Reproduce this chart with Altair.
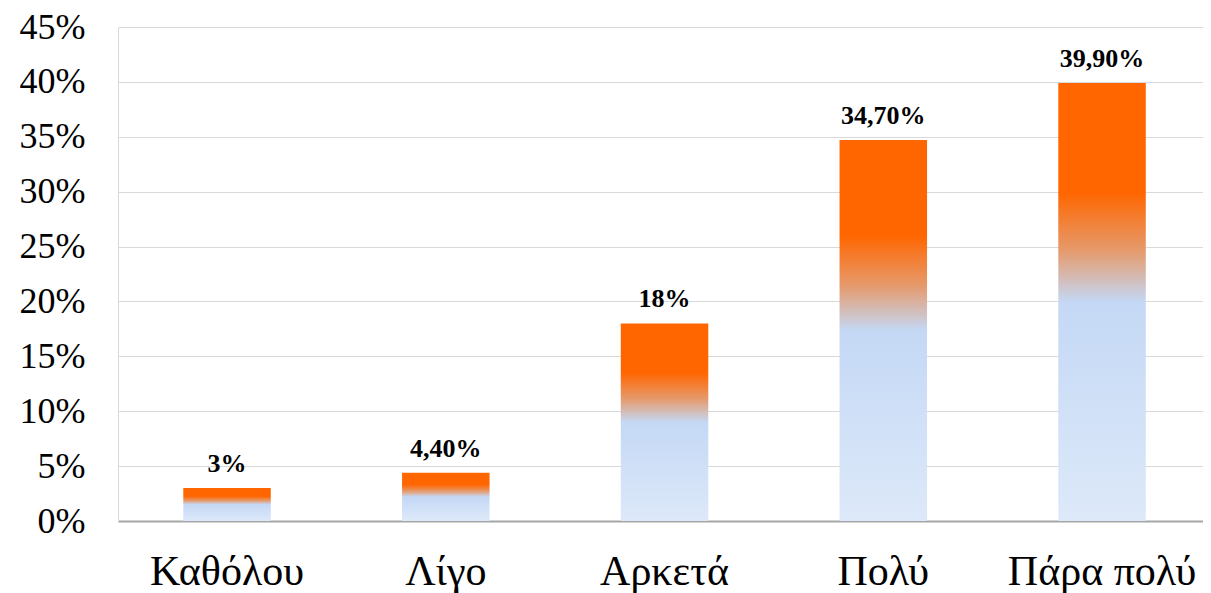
import altair as alt
import pandas as pd

categories = ["Καθόλου", "Λίγο", "Αρκετά", "Πολύ", "Πάρα πολύ"]
values = [3.0, 4.4, 18.0, 34.7, 39.9]
labels = ["3%", "4,40%", "18%", "34,70%", "39,90%"]
y_ticks = [0, 5, 10, 15, 20, 25, 30, 35, 40, 45]

df = pd.DataFrame({"cat": categories, "val": values, "lab": labels})

FONT = "Liberation Serif"

grad = alt.Gradient(
    gradient="linear",
    x1=0, y1=0, x2=0, y2=1,
    stops=[
        alt.GradientStop(offset=0.0, color="#ff6600"),
        alt.GradientStop(offset=0.25, color="#ff6600"),
        alt.GradientStop(offset=0.38, color="#e6996a"),
        alt.GradientStop(offset=0.5, color="#c4d8f5"),
        alt.GradientStop(offset=1.0, color="#dde9f9"),
    ],
)

x_enc = alt.X(
    "cat:N", sort=categories, title=None,
    scale=alt.Scale(paddingInner=0.6, paddingOuter=0.28, align=0.533),
    axis=alt.Axis(labelFont=FONT, labelFontSize=42, labelColor="#000000",
                  labelPadding=30, labelLimit=0, ticks=False,
                  domainColor="#a6a6a6", domainWidth=2, labelAngle=0),
)
y_enc = alt.Y(
    "val:Q", title=None,
    scale=alt.Scale(domain=[0, 45], nice=False),
    axis=alt.Axis(values=y_ticks, labelExpr="datum.value + '%'",
                  labelFont=FONT, labelFontSize=36, labelColor="#000000",
                  labelPadding=33, ticks=False, domainColor="#d9d9d9",
                  gridColor="#d9d9d9", gridWidth=1.2),
)

bars = alt.Chart(df).mark_bar(color=grad).encode(x=x_enc, y=y_enc)

text = alt.Chart(df).mark_text(
    font=FONT, fontSize=26, fontWeight="bold", color="#000000",
    baseline="alphabetic", dy=-16,
).encode(x=alt.X("cat:N", sort=categories), y=alt.Y("val:Q"), text="lab:N")

chart = (bars + text).properties(
    width=1085, height=494,
    autosize=alt.AutoSizeParams(type="none"),
    padding={"left": 110, "top": 19, "right": 0, "bottom": 74},
).configure_view(stroke=None).configure_axis(labelFontWeight="normal")

chart.save("out.html", embed_options={"renderer": "svg", "actions": False})
